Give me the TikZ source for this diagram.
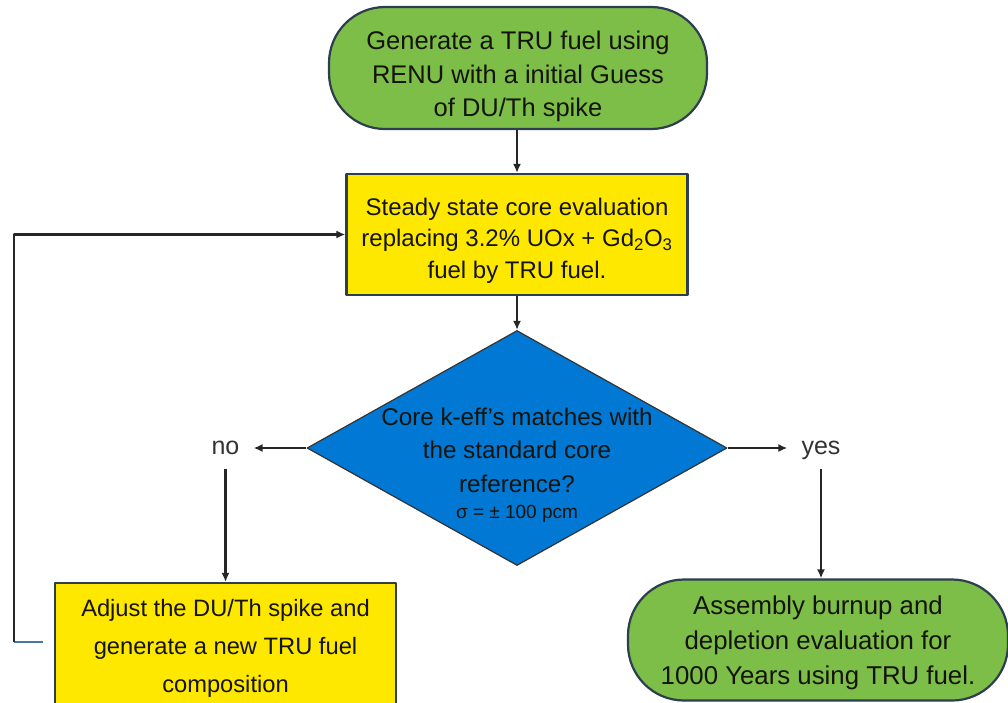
\documentclass[tikz,border=0pt]{standalone}
\usepackage{fontspec}
\setmainfont{Liberation Sans}
\usetikzlibrary{arrows.meta}
\usetikzlibrary{shapes.geometric}
\definecolor{termgreen}{RGB}{125,190,72}
\definecolor{procyellow}{RGB}{255,232,0}
\definecolor{decblue}{RGB}{0,120,212}
\definecolor{edgedark}{RGB}{45,62,78}
\definecolor{loopblue}{RGB}{70,120,170}
\definecolor{txtdark}{RGB}{20,20,12}
\tikzstyle{terminal} = [rectangle, rounded corners=56pt, fill=termgreen,
draw=edgedark, line width=2.2pt, text=txtdark, align=center, inner sep=0pt,
text depth=0pt]
\tikzstyle{process} = [rectangle, fill=procyellow, draw=edgedark,
line width=2.2pt, text=txtdark, align=center, inner sep=0pt, text depth=0pt]
\tikzstyle{decision} = [diamond, fill=decblue, draw=black!80, line width=1.2pt,
inner sep=0pt, minimum width=420pt, minimum height=235pt]
\tikzstyle{branch} = [font=\fontsize{25}{30}\selectfont, text=black!80,
text height=13pt, text depth=0pt, inner xsep=14pt, inner ysep=14pt]
\tikzstyle{arrow} =[-{Latex[length=9pt,width=8pt]}, line width=2.5pt, draw=black!85]

\begin{document}
\begin{tikzpicture}[x=1pt, y=-1pt, line join=round]
	% ось y вниз, 1 ед. = 1 пиксель исходника
	\useasboundingbox (0,0) rectangle (1008,702);
	
	% параметры схемы
	\def\cx{517} % центральная ось
	
	% ---- 1. Начало и стационарный расчёт ----
	\node[terminal, minimum width=378pt, minimum height=122pt, text height=97pt,
	font=\fontsize{25.5}{33.5}\selectfont] (gen) at (518,68)
	{Generate a TRU fuel using\\RENU with a initial Guess\\of DU/Th spike};
	
	\node[process, minimum width=341pt, minimum height=121pt, text height=87pt,
	font=\fontsize{24}{31.5}\selectfont] (steady) at (\cx,234.5)
	{Steady state core evaluation\\replacing 3.2\% UOx + Gd\textsubscript{2}O\textsubscript{3}\\fuel by TRU fuel.};
	
	% ---- 2. Проверка k-eff ----
	\node[decision] (match) at (\cx,448) {};
	\node[align=center, text=txtdark, inner sep=0pt,
	font=\fontsize{24.2}{33.5}\selectfont] (matchtext) at (\cx,465)
	{Core k-eff’s matches with\\the standard core\\reference?\\[-7pt]{\fontsize{19}{22}\selectfont σ = ± 100 pcm}};
	
	\node[branch] (no) at (225.5,448) {no};
	\node[branch] (yes) at (821,448) {yes};
	
	% ---- 3. Ветви ----
	\node[process, minimum width=341pt, minimum height=126pt,
	font=\fontsize{23.7}{38}\selectfont] (adjust) at (225.5,646)
	{Adjust the DU/Th spike and\\generate a new TRU fuel\\composition};
	
	\node[terminal, minimum width=380pt, minimum height=121pt,
	font=\fontsize{25.8}{35}\selectfont] (burnup) at (818,640)
	{Assembly burnup and\\depletion evaluation for\\1000 Years using TRU fuel.};
	
	% ---- 4. Стрелки ----
	\draw[arrow] (gen.south -| steady.north) -- (steady.north);
	\draw[arrow] (steady.south) -- (match.north);
	\draw[arrow] (match.west) -- (no.east);
	\draw[arrow] (match.east) -- (yes.west);
	\draw[arrow] (no.south) -- (no.south |- adjust.north);
	\draw[arrow] (yes.south) -- (yes.south |- burnup.north);
	
	% обратная связь
	\coordinate (loopstart) at (43,642);
	\coordinate (loopcorner) at (14,642);
	\draw[line width=2.5pt, loopblue] (loopstart) -- (loopcorner);
	\draw[arrow] (loopcorner) |- (steady.west);
	
\end{tikzpicture}
\end{document}
